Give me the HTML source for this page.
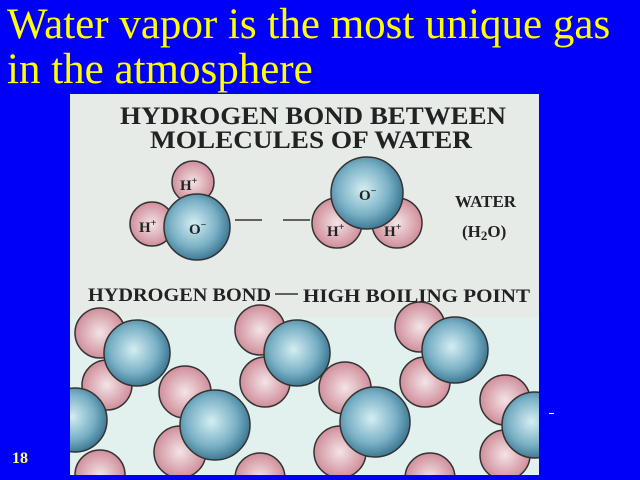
<!DOCTYPE html>
<html><head><meta charset="utf-8"><style>
body{margin:0;width:640px;height:480px;background:#0000f8;overflow:hidden;position:relative;font-family:"Liberation Serif",serif}
.t{position:absolute;left:7px;color:#ffff00;font-size:43px;line-height:45px;white-space:nowrap}
</style></head><body>
<div class="t" style="top:2px">Water vapor is the most unique gas<br>in the atmosphere</div>
<svg style="position:absolute;left:0;top:0" width="640" height="480">
<defs>
<radialGradient id="o" cx="0.45" cy="0.45" r="0.65"><stop offset="0" stop-color="#d4eef2"/><stop offset="0.55" stop-color="#79b0c5"/><stop offset="1" stop-color="#235e7c"/></radialGradient>
<radialGradient id="h" cx="0.5" cy="0.5" r="0.6"><stop offset="0" stop-color="#f3e4e6"/><stop offset="1" stop-color="#c97d8b"/></radialGradient>
<clipPath id="c"><rect x="70" y="94" width="469" height="381"/></clipPath>
</defs>
<rect x="70" y="94" width="469" height="223" fill="#e6ebe8"/>
<rect x="70" y="317" width="469" height="158" fill="#e3f1ee"/>
<g clip-path="url(#c)" stroke="#333" stroke-width="1.5">
<circle cx="100" cy="333" r="25" fill="url(#h)"/><circle cx="107" cy="385" r="25" fill="url(#h)"/><circle cx="137" cy="353" r="33" fill="url(#o)"/>
<circle cx="260" cy="330" r="25" fill="url(#h)"/><circle cx="265" cy="382" r="25" fill="url(#h)"/><circle cx="297" cy="353" r="33" fill="url(#o)"/>
<circle cx="420" cy="327" r="25" fill="url(#h)"/><circle cx="425" cy="382" r="25" fill="url(#h)"/><circle cx="455" cy="350" r="33" fill="url(#o)"/>
<circle cx="75" cy="420" r="32" fill="url(#o)"/>
<circle cx="185" cy="392" r="26" fill="url(#h)"/><circle cx="180" cy="452" r="26" fill="url(#h)"/><circle cx="215" cy="425" r="35" fill="url(#o)"/>
<circle cx="345" cy="388" r="26" fill="url(#h)"/><circle cx="340" cy="452" r="26" fill="url(#h)"/><circle cx="375" cy="422" r="35" fill="url(#o)"/>
<circle cx="505" cy="400" r="25" fill="url(#h)"/><circle cx="505" cy="455" r="25" fill="url(#h)"/><circle cx="535" cy="425" r="33" fill="url(#o)"/>
<circle cx="100" cy="475" r="25" fill="url(#h)"/><circle cx="260" cy="478" r="25" fill="url(#h)"/><circle cx="430" cy="478" r="25" fill="url(#h)"/>
</g>
<g stroke="#333" stroke-width="1.5">
<circle cx="193" cy="182" r="21" fill="url(#h)"/><circle cx="152" cy="224" r="22" fill="url(#h)"/><circle cx="197" cy="227" r="33" fill="url(#o)"/>
<circle cx="337" cy="223" r="25" fill="url(#h)"/><circle cx="397" cy="223" r="25" fill="url(#h)"/><circle cx="367" cy="193" r="36" fill="url(#o)"/>
<line x1="235" y1="220" x2="262" y2="220"/><line x1="283" y1="220" x2="310" y2="220"/>
<line x1="275" y1="294" x2="298" y2="294"/>
</g>
<g font-family="Liberation Serif,serif" fill="#222" font-weight="bold">
<text x="120" y="124" font-size="25" textLength="386" lengthAdjust="spacingAndGlyphs">HYDROGEN BOND BETWEEN</text>
<text x="150" y="148" font-size="25" textLength="322" lengthAdjust="spacingAndGlyphs">MOLECULES OF WATER</text>
<text x="455" y="207" font-size="17">WATER</text>
<text x="462" y="237" font-size="17">(H<tspan font-size="13" dy="3">2</tspan><tspan dy="-3">O)</tspan></text>
<text x="88" y="301" font-size="19" textLength="183" lengthAdjust="spacingAndGlyphs">HYDROGEN BOND</text>
<text x="303" y="302" font-size="19" textLength="227" lengthAdjust="spacingAndGlyphs">HIGH BOILING POINT</text>
<text x="180" y="190" font-size="15">H<tspan font-size="10" dy="-6">+</tspan></text>
<text x="139" y="232" font-size="15">H<tspan font-size="10" dy="-6">+</tspan></text>
<text x="189" y="234" font-size="15">O<tspan font-size="10" dy="-6">−</tspan></text>
<text x="359" y="200" font-size="15">O<tspan font-size="10" dy="-6">−</tspan></text>
<text x="327" y="236" font-size="15">H<tspan font-size="10" dy="-6">+</tspan></text>
<text x="384" y="236" font-size="15">H<tspan font-size="10" dy="-6">+</tspan></text>
</g>
<rect x="549" y="413" width="5" height="1" fill="#fff"/>
</svg>
<div style="position:absolute;left:12px;top:450px;color:#ffff80;font-size:16px;font-weight:bold">18</div>
</body></html>
